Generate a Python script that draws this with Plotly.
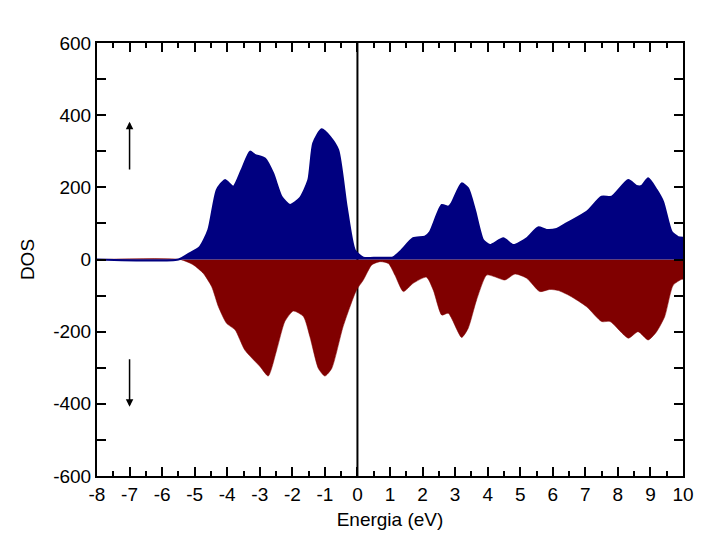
"""
Spin-resolved density of states
"""

import plotly.graph_objects as go

# spin up
energy_up = [-8.0, -5.5, -5.2, -4.84, -4.58, -4.32, -4.07, -3.81, -3.56, -3.30, -3.15,
             -2.84, -2.59, -2.33, -2.07, -1.77, -1.51, -1.36, -1.10, -0.84, -0.59,
             -0.33, -0.08, 0.18, 0.6, 1.09, 1.31, 1.71, 2.07, 2.23, 2.59, 2.79, 2.89,
             3.20, 3.40, 3.61, 3.86, 4.07, 4.48, 4.79, 5.20, 5.55, 5.81, 6.12, 6.42,
             7.04, 7.50, 7.81, 8.32, 8.57, 8.73, 8.93, 9.19, 9.39, 9.65, 9.85, 10.0]
dos_up = [0, 0, 15, 35, 82, 193, 220, 202, 248, 299, 290,
          280, 239, 174, 151, 170, 220, 322, 361, 340, 303,
          146, 26, 5, 5, 6, 22, 59, 63, 77, 151, 146, 156,
          211, 197, 137, 54, 40, 59, 40, 59, 89, 82, 85, 100,
          132, 174, 174, 220, 204, 204, 225, 193, 160, 77, 62, 60]

# spin down
energy_down = [-8.0, -5.45, -5.04, -4.74, -4.48, -4.27, -4.02, -3.76, -3.46, -2.99, -2.74,
               -2.48, -2.23, -1.97, -1.66, -1.46, -1.20, -1.00, -0.79, -0.44, -0.03,
               0.18, 0.44, 0.69, 0.95, 1.15, 1.41, 1.71, 2.12, 2.33, 2.59, 2.79, 3.20,
               3.40, 3.66, 3.97, 4.22, 4.53, 4.84, 5.20, 5.60, 5.91, 6.17, 6.53, 7.04,
               7.50, 7.76, 8.32, 8.62, 8.93, 9.19, 9.44, 9.70, 9.96, 10.0]
dos_down = [0, 0, -15, -38, -75, -131, -177, -195, -251, -297, -323,
            -251, -172, -143, -158, -214, -302, -323, -302, -186, -85,
            -57, -15, -6, -11, -43, -89, -66, -49, -85, -154, -149, -216,
            -191, -112, -43, -48, -57, -40, -52, -89, -83, -86, -101, -131,
            -172, -172, -218, -200, -223, -200, -158, -71, -55, -55]

x_ticks = list(range(-8, 11))
x_labels = [str(v) for v in x_ticks]
y_ticks = [-600, -400, -200, 0, 200, 400, 600]
y_labels = [str(v) for v in y_ticks]

FONT = "Liberation Sans, Arial, sans-serif"

fig = go.Figure()

# =======================================
# Spin down
# =======================================

fig.add_trace(
    go.Scatter(
        x=energy_down,
        y=dos_down,
        mode="lines",
        fill="tozeroy",
        fillcolor="#800000",
        line=dict(color="#800000", width=0.5, shape="spline", smoothing=0.6),
        hoverinfo="skip",
        showlegend=False
    )
)

# =======================================
# Spin up
# =======================================

fig.add_trace(
    go.Scatter(
        x=energy_up,
        y=dos_up,
        mode="lines",
        fill="tozeroy",
        fillcolor="#000080",
        line=dict(color="#000080", width=2, shape="spline", smoothing=0.6),
        hoverinfo="skip",
        showlegend=False
    )
)

# Fermi level
fig.add_shape(
    type="line", xref="x", yref="y",
    x0=0, x1=0, y0=-600, y1=600,
    line=dict(color="black", width=2),
    layer="below"
)

# spin arrows
fig.add_annotation(
    x=-7, y=382, ax=-7, ay=245,
    xref="x", yref="y", axref="x", ayref="y",
    text="", showarrow=True,
    arrowhead=2, arrowsize=1, arrowwidth=1.5, arrowcolor="black"
)
fig.add_annotation(
    x=-7, y=-408, ax=-7, ay=-272,
    xref="x", yref="y", axref="x", ayref="y",
    text="", showarrow=True,
    arrowhead=2, arrowsize=1, arrowwidth=1.5, arrowcolor="black"
)

fig.update_layout(
    width=726,
    height=545,
    paper_bgcolor="white",
    plot_bgcolor="white",
    font=dict(family=FONT, size=19, color="black"),
    margin=dict(l=89, r=51, t=35, b=77),
    showlegend=False
)

fig.update_xaxes(
    range=[-8, 10],
    tickvals=x_ticks,
    ticktext=x_labels,
    ticks="inside",
    ticklen=9,
    tickwidth=2,
    tickcolor="black",
    minor=dict(dtick=0.5, ticks="inside", ticklen=5, tickwidth=2, tickcolor="black"),
    showgrid=False,
    zeroline=False,
    showline=True,
    linewidth=2,
    linecolor="black",
    mirror="allticks",
    automargin=False,
    title=dict(text="Energia (eV)", standoff=9, font=dict(size=19)),
    tickfont=dict(size=19)
)

fig.update_yaxes(
    range=[-600, 600],
    tickvals=y_ticks,
    ticktext=y_labels,
    ticks="inside",
    ticklen=9,
    tickwidth=2,
    tickcolor="black",
    minor=dict(dtick=100, ticks="inside", ticklen=9, tickwidth=2, tickcolor="black"),
    showgrid=False,
    zeroline=False,
    showline=True,
    linewidth=2,
    linecolor="black",
    mirror="allticks",
    automargin=False,
    title=dict(text="DOS", standoff=14, font=dict(size=19)),
    tickfont=dict(size=19)
)

fig.write_html("out.html")
